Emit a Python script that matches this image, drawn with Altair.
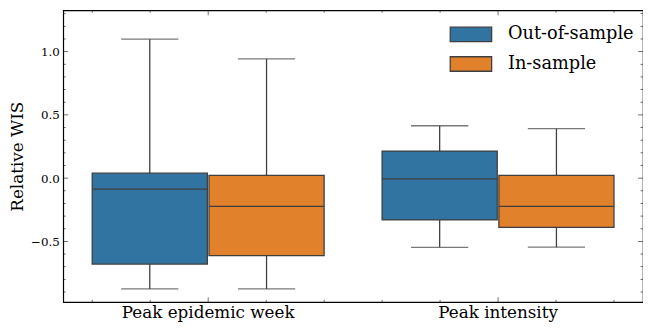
import altair as alt
import pandas as pd

categories = ["Peak epidemic week", "Peak intensity"]
groups = ["Out-of-sample", "In-sample"]
colors = ["#3274a1", "#e1812c"]

cat_col = ["Peak epidemic week", "Peak epidemic week", "Peak intensity", "Peak intensity"]
grp_col = ["Out-of-sample", "In-sample", "Out-of-sample", "In-sample"]
whisker_lo = [-0.876, -0.876, -0.547, -0.545]
q1 = [-0.679, -0.612, -0.330, -0.389]
median = [-0.086, -0.223, -0.005, -0.223]
q3 = [0.039, 0.021, 0.214, 0.021]
whisker_hi = [1.098, 0.942, 0.414, 0.391]

y_major = [-0.5, 0.0, 0.5, 1.0]
y_minor = [-0.9, -0.8, -0.7, -0.6, -0.4, -0.3, -0.2, -0.1, 0.1, 0.2, 0.3, 0.4,
           0.6, 0.7, 0.8, 0.9, 1.1, 1.2, 1.3]
x_major = [0.0, 1.0]
x_minor = [-0.4, -0.2, 0.2, 0.4, 0.6, 0.8, 1.2, 1.4]

W, H = 588, 296
EDGE = "#3f3f3f"
FONT = "DejaVu Serif"

df = pd.DataFrame({"cat": cat_col, "grp": grp_col, "lo": whisker_lo, "q1": q1,
                   "med": median, "q3": q3, "hi": whisker_hi})

yscale = alt.Scale(domain=[-0.98, 1.327], nice=False, zero=False)
xscale = alt.Scale(domain=categories, paddingInner=0.2, paddingOuter=0.1)
xoff = alt.XOffset("grp:N", sort=groups, scale=alt.Scale(domain=groups, paddingInner=0.014))
xenc = alt.X("cat:N", sort=categories, scale=xscale,
             axis=alt.Axis(title=None, labelAngle=0, ticks=False, domain=False,
                           labelFontSize=17, labelPadding=3, labelColor="black",
                           labelFont=FONT))
color = alt.Color("grp:N", sort=groups, scale=alt.Scale(domain=groups, range=colors),
                  legend=alt.Legend(title=None, orient="none", legendX=402, legendY=13,
                                    symbolType="M-2,-0.7L2,-0.7L2,0.7L-2,0.7Z",
                                    symbolSize=441, symbolStrokeColor=EDGE,
                                    symbolStrokeWidth=1.3, symbolOpacity=1,
                                    labelFontSize=18, labelOffset=26, rowPadding=8,
                                    labelColor="black", labelFont=FONT, padding=0))

base = alt.Chart(df)
whisk = base.mark_rule(color=EDGE, strokeWidth=1.3).encode(
    x=xenc, xOffset=xoff,
    y=alt.Y("lo:Q", scale=yscale,
            axis=alt.Axis(title="Relative WIS", titleFontSize=17, titleFontWeight="normal",
                          titlePadding=4, values=y_major, format=".1f", ticks=False,
                          domain=False, grid=False, labelFontSize=12, labelPadding=4,
                          labelColor="black", titleColor="black", labelFont=FONT,
                          titleFont=FONT)),
    y2="hi:Q")
boxes = base.mark_bar(stroke=EDGE, strokeWidth=1.3, opacity=1).encode(
    x=xenc, xOffset=xoff, y=alt.Y("q1:Q", scale=yscale), y2="q3:Q", color=color)
meds = base.mark_bar(stroke=EDGE, strokeWidth=1.3, fillOpacity=0).encode(
    x=xenc, xOffset=xoff, y=alt.Y("med:Q", scale=yscale), y2="med:Q")
caps_lo = base.mark_tick(color=EDGE, size=58, thickness=1.3, orient="horizontal").encode(
    x=xenc, xOffset=xoff, y=alt.Y("lo:Q", scale=yscale))
caps_hi = base.mark_tick(color=EDGE, size=58, thickness=1.3, orient="horizontal").encode(
    x=xenc, xOffset=xoff, y=alt.Y("hi:Q", scale=yscale))

ymaj = alt.Chart(pd.DataFrame({"v": y_major}))
ymin = alt.Chart(pd.DataFrame({"v": y_minor}))
ytick_layers = []
for src, L in ((ymaj, 5), (ymin, 2.5)):
    for xpos in (L / 2, W - L / 2):
        ytick_layers.append(src.mark_tick(color="black", size=L, thickness=0.8,
                                          orient="horizontal").encode(
            x=alt.value(xpos), y=alt.Y("v:Q", scale=yscale)))

inner = alt.layer(whisk, boxes, meds, caps_lo, caps_hi, *ytick_layers)

xq = alt.Scale(domain=[-0.5, 1.5], nice=False, zero=False)
xmaj = alt.Chart(pd.DataFrame({"u": x_major}))
xmin = alt.Chart(pd.DataFrame({"u": x_minor}))
xtick_layers = []
for src, L in ((xmaj, 5), (xmin, 2.5)):
    for ypos in (L / 2, H - L / 2):
        xtick_layers.append(src.mark_tick(color="black", size=L, thickness=0.8,
                                          orient="vertical").encode(
            x=alt.X("u:Q", scale=xq, axis=None), y=alt.value(ypos)))
outer_ticks = alt.layer(*xtick_layers)

chart = alt.layer(inner, outer_ticks).resolve_scale(x="independent").properties(
    width=W, height=H, autosize=alt.AutoSizeParams(type="none"),
    padding={"left": 56, "top": 0, "right": 0, "bottom": 27}
).configure(
    font=FONT,
    view=alt.ViewConfig(stroke="black", strokeWidth=1.2),
)

chart.save("out.html", embed_options={"renderer": "svg", "actions": False})
